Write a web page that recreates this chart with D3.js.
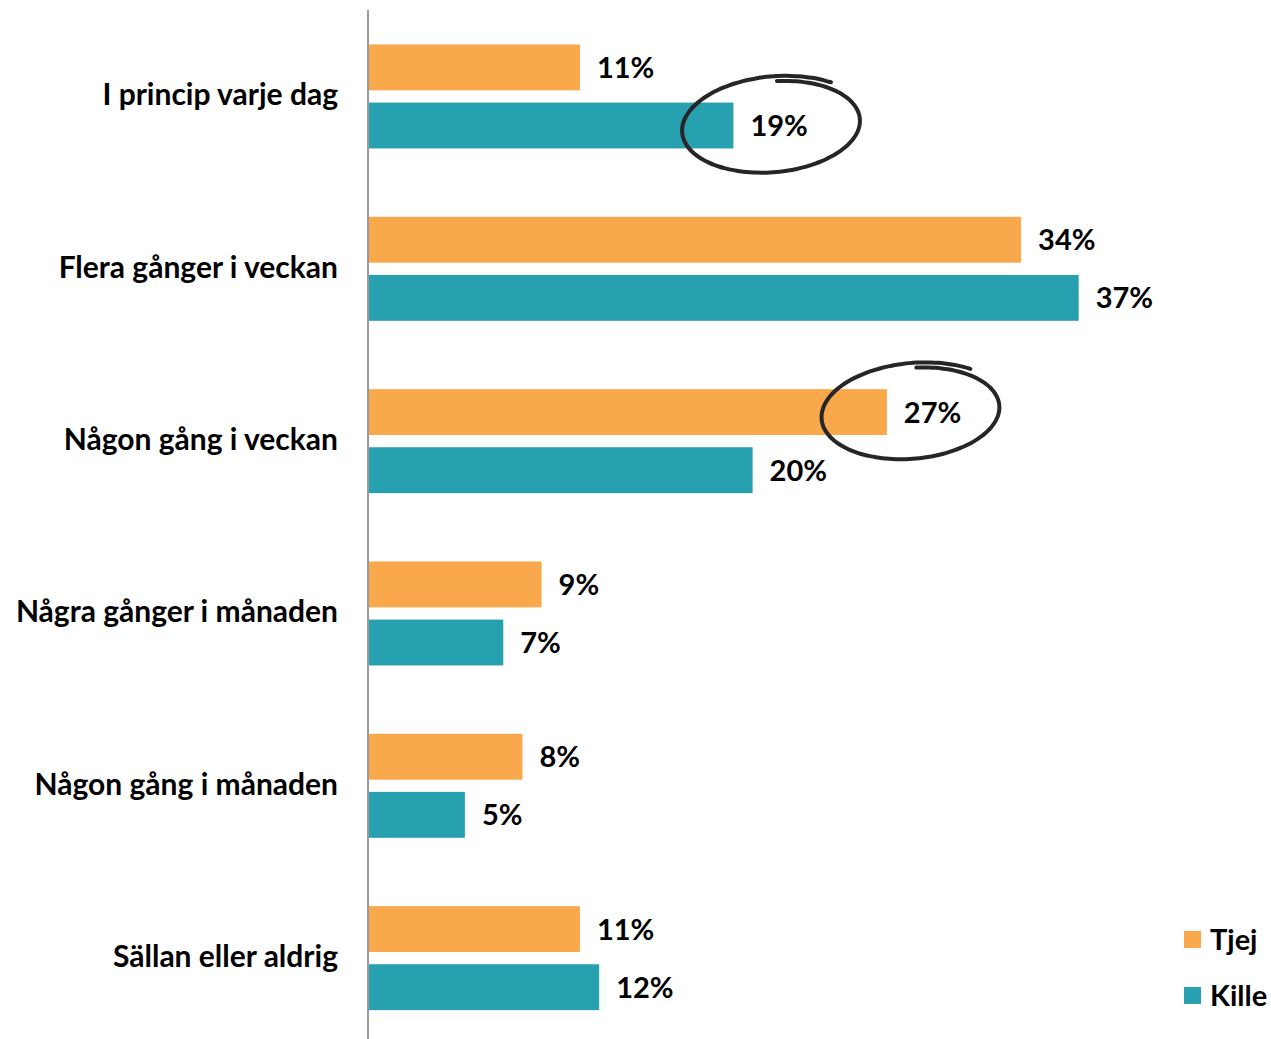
<!DOCTYPE html>
<html>
<head>
<meta charset="utf-8">
<script src="https://cdn.jsdelivr.net/npm/d3@7"></script>
<style>
  html, body { margin: 0; padding: 0; background: #fff; }
  svg { display: block; }
  text { font-family: Lato, "Open Sans", sans-serif; font-weight: 700; fill: #000; }
</style>
</head>
<body>
<svg id="chart" width="1271" height="1039"></svg>
<script>
// How often: answer categories, top to bottom
const categories = [
  "I princip varje dag",
  "Flera gånger i veckan",
  "Någon gång i veckan",
  "Några gånger i månaden",
  "Någon gång i månaden",
  "Sällan eller aldrig"
];
const seriesNames = ["Tjej", "Kille"];
const tjejValues  = [11, 34, 27, 9, 8, 11];
const killeValues = [19, 37, 20, 7, 5, 12];
const seriesColors = ["#F9A94B", "#27A0AF"];
// Bars highlighted with a hand-drawn ring: [series, category]
const circled = [["Kille", "I princip varje dag"], ["Tjej", "Någon gång i veckan"]];

const values = { Tjej: tjejValues, Kille: killeValues };
const color = d3.scaleOrdinal().domain(seriesNames).range(seriesColors);

const svg = d3.select("#chart");
const W = 1271, H = 1039;

const x = d3.scaleLinear().domain([0, 40]).range([369, 369 + 40 * 19.18]);
const y = d3.scaleBand().domain(categories).range([10.3, 1044.3]).padding(0);
const ySub = d3.scaleBand().domain(seriesNames).range([0, 104]).paddingInner(0.21).paddingOuter(0);
const groupTop = c => y(c) + (y.bandwidth() - 104) / 2;

const rows = [];
categories.forEach((c, i) => seriesNames.forEach(s => rows.push({ cat: c, series: s, value: values[s][i] })));

// Bars
svg.append("g").selectAll("rect").data(rows).join("rect")
  .attr("x", x(0))
  .attr("y", d => groupTop(d.cat) + ySub(d.series))
  .attr("width", d => x(d.value) - x(0))
  .attr("height", ySub.bandwidth())
  .attr("fill", d => color(d.series));

// Value labels
svg.append("g").selectAll("text").data(rows).join("text")
  .attr("x", d => x(d.value) + 17)
  .attr("y", d => groupTop(d.cat) + ySub(d.series) + ySub.bandwidth() / 2)
  .attr("dy", "0.36em")
  .attr("font-size", 29)
  .text(d => d.value + "%");

// Category axis (labels only, with a gray baseline)
const yAxis = d3.axisLeft(y).tickSize(0).tickPadding(31);
const ax = svg.append("g").attr("transform", `translate(${x(0)},0)`).call(yAxis);
ax.select(".domain").remove();
ax.selectAll(".tick text")
  .attr("font-size", 30)
  .style("font-family", "Lato, 'Open Sans', sans-serif")
  .style("font-weight", 700)
  .attr("fill", "#000")
  .attr("dy", "0.3em");
svg.append("line")
  .attr("x1", x(0) - 1).attr("x2", x(0) - 1)
  .attr("y1", 10).attr("y2", H)
  .attr("stroke", "#9a9a9a").attr("stroke-width", 2);

// Hand-drawn rings around highlighted labels
const ringLine = d3.line().curve(d3.curveBasis);
circled.forEach(([s, c]) => {
  const v = values[s][categories.indexOf(c)];
  const cy = groupTop(c) + ySub(s) + ySub.bandwidth() / 2;
  const cx = x(v) + (s === "Kille" ? 40 : 26);
  const rx = 88, ry = 46, rot = -5 * Math.PI / 180;
  const pts = [];
  const a0 = -50 * Math.PI / 180, a1 = -445 * Math.PI / 180, n = 90;
  for (let k = 0; k <= n; k++) {
    const t = k / n;
    const a = a0 + (a1 - a0) * t;
    const sc = 1.08 - 0.12 * t;
    const ex = rx * sc * Math.cos(a), ey = ry * sc * Math.sin(a);
    pts.push([cx + ex * Math.cos(rot) - ey * Math.sin(rot), cy + ex * Math.sin(rot) + ey * Math.cos(rot)]);
  }
  svg.append("path")
    .attr("d", ringLine(pts))
    .attr("fill", "none")
    .attr("stroke", "#262626")
    .attr("stroke-width", 4)
    .attr("stroke-linecap", "round");
});

// Legend
const legend = svg.append("g").selectAll("g").data(seriesNames).join("g")
  .attr("transform", (d, i) => `translate(1184, ${931 + i * 56})`);
legend.append("rect").attr("width", 17).attr("height", 17).attr("fill", d => color(d));
legend.append("text").attr("x", 26).attr("y", 8.5).attr("dy", "0.36em")
  .attr("font-size", 29).text(d => d);
</script>
</body>
</html>
